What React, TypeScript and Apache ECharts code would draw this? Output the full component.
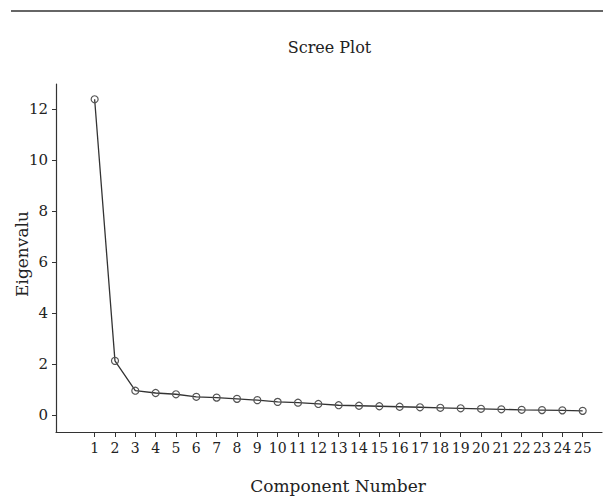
import React, { useEffect, useRef } from "react";
import * as echarts from "echarts";

const components = [1, 2, 3, 4, 5, 6, 7, 8, 9, 10, 11, 12, 13, 14, 15, 16, 17, 18, 19, 20, 21, 22, 23, 24, 25];
const eigenvalues = [12.4, 2.14, 0.97, 0.88, 0.83, 0.73, 0.7, 0.65, 0.6, 0.53, 0.5, 0.45, 0.4, 0.38, 0.36, 0.34, 0.32, 0.3, 0.28, 0.26, 0.24, 0.22, 0.21, 0.2, 0.18];
const yTicks = [0, 2, 4, 6, 8, 10, 12];

const FONT = "DejaVu Serif";

export default function App() {
  const ref = useRef<HTMLDivElement>(null);
  useEffect(() => {
    const chart = echarts.init(ref.current!, null, { renderer: "svg" });
    chart.setOption({
      animation: false,
      backgroundColor: "#ffffff",
      grid: { left: 56, right: 1, top: 84, bottom: 65, containLabel: false },
      graphic: [
        {
          type: "line",
          shape: { x1: 11, y1: 11, x2: 603, y2: 11 },
          style: { stroke: "#333333", lineWidth: 1.5 },
        },
        {
          type: "text",
          x: 329.5,
          y: 47,
          style: {
            text: "Scree Plot",
            font: `16px "${FONT}"`,
            fill: "#222222",
            textAlign: "center",
            textVerticalAlign: "middle",
          },
        },
        {
          type: "text",
          x: 338,
          y: 486,
          style: {
            text: "Component Number",
            font: `17px "${FONT}"`,
            fill: "#222222",
            textAlign: "center",
            textVerticalAlign: "middle",
          },
        },
        {
          type: "text",
          x: 21.5,
          y: 254,
          rotation: Math.PI / 2,
          style: {
            text: "Eigenvalu",
            font: `17px "${FONT}"`,
            fill: "#222222",
            textAlign: "center",
            textVerticalAlign: "middle",
          },
        },
      ],
      xAxis: {
        type: "value",
        min: -0.9,
        max: 25.95,
        splitLine: { show: false },
        axisLine: { show: true, onZero: false, lineStyle: { color: "#333333", width: 1.2 } },
        axisTick: { show: true, length: 5, customValues: components, lineStyle: { color: "#333333" } },
        axisLabel: {
          customValues: components,
          margin: 9,
          color: "#222222",
          fontFamily: FONT,
          fontSize: 14,
        },
      },
      yAxis: {
        type: "value",
        min: -0.65,
        max: 13.0,
        splitLine: { show: false },
        axisLine: { show: true, onZero: false, lineStyle: { color: "#333333", width: 1.2 } },
        axisTick: { show: true, length: 4, customValues: yTicks, lineStyle: { color: "#333333" } },
        axisLabel: {
          customValues: yTicks,
          margin: 8,
          color: "#222222",
          fontFamily: FONT,
          fontSize: 15,
        },
      },
      series: [
        {
          type: "line",
          data: components.map((c, i) => [c, eigenvalues[i]]),
          symbol: "circle",
          symbolSize: 7,
          showSymbol: true,
          lineStyle: { color: "#333333", width: 1.3 },
          itemStyle: { color: "rgba(0,0,0,0)", borderColor: "#555555", borderWidth: 1.2 },
          z: 3,
        },
      ],
    });
    return () => chart.dispose();
  }, []);
  return (
    <div
      ref={ref}
      style={{ position: "fixed", left: 0, top: 0, width: 603, height: 497 }}
    />
  );
}
